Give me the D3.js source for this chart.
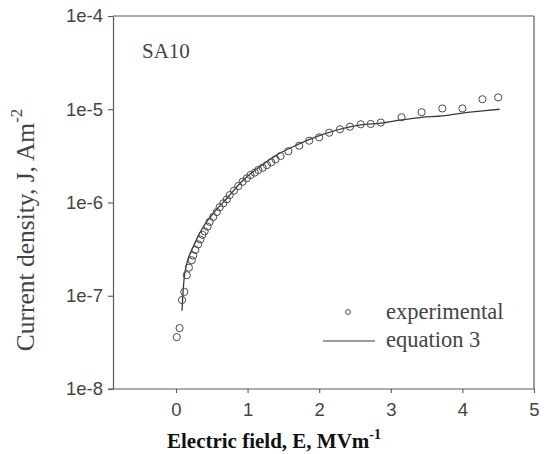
<!DOCTYPE html>
<html>
<head>
<meta charset="utf-8">
<script src="https://cdn.jsdelivr.net/npm/d3@7"></script>
<style>
  html, body { margin: 0; padding: 0; background: #fff; }
  svg { display: block; }
</style>
</head>
<body>
<svg id="chart" width="545" height="454"></svg>
<script>
// ---- data ----
const expE = [0.01, 0.05, 0.084, 0.116, 0.15, 0.18, 0.22, 0.24, 0.27, 0.31, 0.34, 0.37, 0.40, 0.44, 0.47, 0.52, 0.57, 0.61, 0.66, 0.71, 0.75, 0.81, 0.87, 0.93, 0.99, 1.04, 1.10, 1.15, 1.21, 1.27, 1.33, 1.39, 1.46, 1.57, 1.72, 1.86, 2.00, 2.14, 2.29, 2.43, 2.58, 2.72, 2.86, 3.15, 3.43, 3.72, 4.00, 4.28, 4.50];
const expJ = [3.6e-8, 4.5e-8, 9.0e-8, 1.1e-7, 1.66e-7, 2.0e-7, 2.4e-7, 2.7e-7, 3.1e-7, 3.55e-7, 4.0e-7, 4.5e-7, 4.9e-7, 5.5e-7, 6.2e-7, 7.0e-7, 7.9e-7, 8.9e-7, 9.8e-7, 1.08e-6, 1.2e-6, 1.34e-6, 1.5e-6, 1.67e-6, 1.82e-6, 1.97e-6, 2.09e-6, 2.23e-6, 2.36e-6, 2.52e-6, 2.7e-6, 2.9e-6, 3.15e-6, 3.55e-6, 4.07e-6, 4.6e-6, 5.0e-6, 5.6e-6, 6.1e-6, 6.5e-6, 6.9e-6, 6.95e-6, 7.2e-6, 8.2e-6, 9.3e-6, 1.02e-5, 1.02e-5, 1.28e-5, 1.34e-5];
const fitE = [0.084, 0.10, 0.116, 0.15, 0.24, 0.38, 0.52, 0.71, 0.94, 1.17, 1.41, 1.69, 2.00, 2.58, 2.86, 3.15, 3.43, 3.72, 4.00, 4.28, 4.52];
const fitJ = [6.9e-8, 1.15e-7, 1.6e-7, 2.2e-7, 3.36e-7, 5.5e-7, 7.65e-7, 1.11e-6, 1.74e-6, 2.42e-6, 3.24e-6, 4.14e-6, 5.2e-6, 6.8e-6, 7.1e-6, 7.7e-6, 8.2e-6, 8.5e-6, 9.1e-6, 9.6e-6, 1.0e-5];
const xTicks = [0, 1, 2, 3, 4, 5];
const yTicks = [1e-8, 1e-7, 1e-6, 1e-5, 1e-4];
const legendLabels = ["experimental", "equation 3"];
const panelLabel = "SA10";

// ---- layout ----
const L = 113, R = 534, T = 16, B = 389;
const svg = d3.select("#chart");
const x = d3.scaleLinear().domain([-0.88, 5]).range([L, R]);
const y = d3.scaleLog().domain([1e-8, 1e-4]).range([B, T]);
const axisCol = "#5a5a5a";
const textCol = "#444";
const serif = "'Liberation Serif', 'Times New Roman', serif";

// frame (top & right)
svg.append("line").attr("x1", L).attr("x2", R).attr("y1", T).attr("y2", T)
  .attr("stroke", axisCol).attr("stroke-width", 1.2);
svg.append("line").attr("x1", R).attr("x2", R).attr("y1", T).attr("y2", B)
  .attr("stroke", axisCol).attr("stroke-width", 1.2);

// axes
const xAxis = svg.append("g").attr("transform", `translate(0,${B})`)
  .call(d3.axisBottom(x).tickValues(xTicks).tickSizeInner(4).tickSizeOuter(0).tickPadding(10).tickFormat(d3.format("d")));
const yAxis = svg.append("g").attr("transform", `translate(${L},0)`)
  .call(d3.axisLeft(y).tickValues(yTicks).tickSizeInner(5).tickSizeOuter(0).tickPadding(5)
    .tickFormat(d => "1e" + Math.round(Math.log10(d))));
[xAxis, yAxis].forEach(g => {
  g.select(".domain").attr("stroke", axisCol).attr("stroke-width", 1.2);
  g.selectAll(".tick line").attr("stroke", axisCol).attr("stroke-width", 1.1);
  g.selectAll(".tick text").attr("fill", textCol)
    .style("font-family", "'Liberation Sans', Arial, sans-serif").style("font-size", "18.5px");
});
xAxis.select(".domain").attr("d", `M${L - 5},0H${R}`);

// fit line
const line = d3.line().x((d, i) => x(fitE[i])).y((d, i) => y(fitJ[i])).curve(d3.curveMonotoneX);
svg.append("path").datum(fitE).attr("d", line)
  .attr("fill", "none").attr("stroke", "#3a3a3a").attr("stroke-width", 1.3);

// experimental points
svg.append("g").selectAll("circle").data(expE).join("circle")
  .attr("cx", (d) => x(d)).attr("cy", (d, i) => y(expJ[i])).attr("r", 3.6)
  .attr("fill", "none").attr("stroke", "#4a4a4a").attr("stroke-width", 1);

// panel label
svg.append("text").attr("x", 142).attr("y", 58).text(panelLabel)
  .attr("fill", textCol).style("font-family", serif).style("font-size", "21px");

// legend
svg.append("circle").attr("cx", 348).attr("cy", 312).attr("r", 2.4)
  .attr("fill", "none").attr("stroke", "#4a4a4a").attr("stroke-width", 1);
svg.append("line").attr("x1", 323).attr("x2", 375).attr("y1", 341).attr("y2", 341)
  .attr("stroke", "#3a3a3a").attr("stroke-width", 1.2);
svg.append("text").attr("x", 386).attr("y", 319).text(legendLabels[0])
  .attr("fill", textCol).style("font-family", serif).style("font-size", "22.5px");
svg.append("text").attr("x", 386).attr("y", 347).text(legendLabels[1])
  .attr("fill", textCol).style("font-family", serif).style("font-size", "22.5px");

// x axis title
const xt = svg.append("text").attr("x", 274).attr("y", 448).attr("text-anchor", "middle")
  .attr("fill", "#111").style("font-family", serif).style("font-size", "21px").style("font-weight", "bold");
xt.append("tspan").text("Electric field, E, MVm");
xt.append("tspan").attr("dy", -9).style("font-size", "14px").text("-1");

// y axis title
const yt = svg.append("text").attr("transform", "translate(34,230) rotate(-90)").attr("text-anchor", "middle")
  .attr("fill", textCol).style("font-family", serif).style("font-size", "25.5px");
yt.append("tspan").text("Current density, J, Am");
yt.append("tspan").attr("dy", -12).style("font-size", "17px").text("-2");
</script>
</body>
</html>
